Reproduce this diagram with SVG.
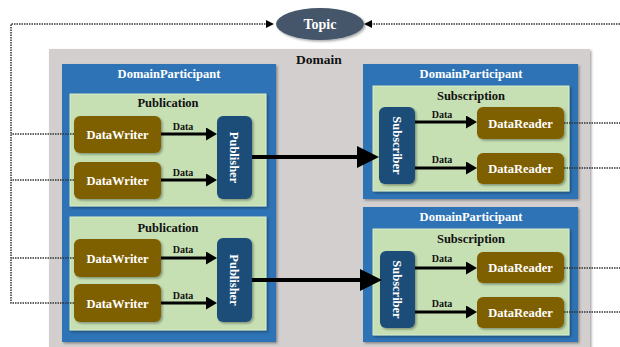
<svg xmlns="http://www.w3.org/2000/svg" width="620" height="347" viewBox="0 0 620 347">
<style>
text{font-family:"Liberation Serif","Times New Roman",serif;font-weight:bold;text-anchor:middle}
.w{fill:#ffffff;font-size:12.5px}
.k{fill:#111111}
.dom{fill:#d3cfcf;filter:url(#sh)}
.dp{fill:#2f73b5;filter:url(#sh)}
.grn{fill:#c6e0b4;stroke:#d8ecc9;stroke-width:1;filter:url(#sh)}
.brn{fill:#7f6000;filter:url(#sh)}
.dkb{fill:#1f4e79;filter:url(#sh)}
.dot{fill:none;stroke:#333333;stroke-width:1.5;stroke-dasharray:1.5 1}
.dat{fill:none;stroke:#000000;stroke-width:3}
.big{fill:none;stroke:#000000;stroke-width:4}
.lbl{font-size:10px;fill:#111111}
</style>
<defs>
<filter id="sh" x="-10%" y="-10%" width="130%" height="130%">
<feDropShadow dx="1.5" dy="1.5" stdDeviation="1.2" flood-color="#000000" flood-opacity="0.35"/>
</filter>
<marker id="ad" markerUnits="userSpaceOnUse" markerWidth="11" markerHeight="13" refX="4" refY="6.5" orient="auto">
<path d="M0,0 L11,6.5 L0,13 z" fill="#000000"/>
</marker>
<marker id="ab" markerUnits="userSpaceOnUse" markerWidth="22" markerHeight="22" refX="4" refY="11" orient="auto">
<path d="M0,0 L22,11 L0,22 z" fill="#000000"/>
</marker>
<marker id="at" markerUnits="userSpaceOnUse" markerWidth="8" markerHeight="8" refX="2" refY="4" orient="auto">
<path d="M0,0 L8,4 L0,8 z" fill="#000000"/>
</marker>
</defs>

<g id="domain">
<rect class="dom" x="49" y="49" width="541" height="300"/>
<text class="k" x="319" y="64" style="font-size:13.5px">Domain</text>
</g>

<g id="participant-left">
<rect class="dp" x="62" y="64" width="214" height="278"/>
<text class="w" x="169" y="78">DomainParticipant</text>
</g>
<g id="publication-1">
<rect class="grn" x="70" y="94" width="196" height="112"/>
<text class="k" x="168" y="107" style="font-size:12.5px">Publication</text>
</g>
<g id="publication-2">
<rect class="grn" x="70" y="217" width="196" height="113"/>
<text class="k" x="168" y="232" style="font-size:12.5px">Publication</text>
</g>

<g id="participant-right-1">
<rect class="dp" x="363" y="64" width="215" height="135"/>
<text class="w" x="471" y="78">DomainParticipant</text>
</g>
<g id="subscription-1">
<rect class="grn" x="373" y="86" width="196" height="105"/>
<text class="k" x="471" y="100" style="font-size:12.5px">Subscription</text>
</g>
<g id="participant-right-2">
<rect class="dp" x="363" y="207" width="215" height="135"/>
<text class="w" x="471" y="221">DomainParticipant</text>
</g>
<g id="subscription-2">
<rect class="grn" x="373" y="229" width="196" height="106"/>
<text class="k" x="471" y="243" style="font-size:12.5px">Subscription</text>
</g>

<g id="topic">
<ellipse cx="320" cy="24" rx="44" ry="16" fill="#44546a" filter="url(#sh)"/>
<text class="w" x="320" y="29" style="font-size:14px">Topic</text>
</g>

<g id="datawriter-1"><rect class="brn" x="74" y="116" width="87" height="37" rx="6"/><text class="w" x="117.5" y="139">DataWriter</text></g>
<g id="datawriter-2"><rect class="brn" x="74" y="162" width="87" height="37" rx="6"/><text class="w" x="117.5" y="185">DataWriter</text></g>
<g id="datawriter-3"><rect class="brn" x="74" y="239" width="87" height="38" rx="6"/><text class="w" x="117.5" y="262.5">DataWriter</text></g>
<g id="datawriter-4"><rect class="brn" x="74" y="284" width="87" height="38" rx="6"/><text class="w" x="117.5" y="307.5">DataWriter</text></g>

<g id="publisher-1"><rect class="dkb" x="217" y="116" width="35" height="83" rx="6"/><text class="w" transform="translate(234.5,157.5) rotate(90)" y="4.5">Publisher</text></g>
<g id="publisher-2"><rect class="dkb" x="217" y="238" width="35" height="84" rx="6"/><text class="w" transform="translate(234.5,280) rotate(90)" y="4.5">Publisher</text></g>

<g id="subscriber-1"><rect class="dkb" x="379" y="107" width="36" height="77" rx="6"/><text class="w" transform="translate(397,145.5) rotate(90)" y="4.5">Subscriber</text></g>
<g id="subscriber-2"><rect class="dkb" x="380" y="251" width="35" height="77" rx="6"/><text class="w" transform="translate(397.5,289.5) rotate(90)" y="4.5">Subscriber</text></g>

<g id="datareader-1"><rect class="brn" x="477" y="107" width="87" height="32" rx="6"/><text class="w" x="520.5" y="127.5">DataReader</text></g>
<g id="datareader-2"><rect class="brn" x="477" y="153" width="87" height="31" rx="6"/><text class="w" x="520.5" y="173">DataReader</text></g>
<g id="datareader-3"><rect class="brn" x="477" y="252" width="87" height="31" rx="6"/><text class="w" x="520.5" y="272">DataReader</text></g>
<g id="datareader-4"><rect class="brn" x="477" y="297" width="87" height="31" rx="6"/><text class="w" x="520.5" y="317">DataReader</text></g>

<g id="connectors">
<path class="dot" d="M74,303 H11 V24 H268" marker-end="url(#at)"/>
<path class="dot" d="M74,134 H11 M74,180 H11 M74,258 H11"/>
<path class="dot" d="M620,24 H370" marker-end="url(#at)"/>
<path class="dot" d="M564,123 H620 M564,168 H620 M564,268 H620 M564,312 H620"/>

<line class="dat" x1="161" y1="134" x2="210" y2="134" marker-end="url(#ad)"/>
<line class="dat" x1="161" y1="180" x2="210" y2="180" marker-end="url(#ad)"/>
<line class="dat" x1="161" y1="258" x2="210" y2="258" marker-end="url(#ad)"/>
<line class="dat" x1="161" y1="303" x2="210" y2="303" marker-end="url(#ad)"/>
<line class="dat" x1="415" y1="122" x2="470" y2="122" marker-end="url(#ad)"/>
<line class="dat" x1="415" y1="168" x2="470" y2="168" marker-end="url(#ad)"/>
<line class="dat" x1="415" y1="268" x2="470" y2="268" marker-end="url(#ad)"/>
<line class="dat" x1="415" y1="312" x2="470" y2="312" marker-end="url(#ad)"/>

<line class="big" x1="252" y1="157" x2="361" y2="157" marker-end="url(#ab)"/>
<line class="big" x1="252" y1="280" x2="364" y2="280" marker-end="url(#ab)"/>

<text class="lbl" x="183" y="130">Data</text>
<text class="lbl" x="183" y="176">Data</text>
<text class="lbl" x="183" y="253">Data</text>
<text class="lbl" x="183" y="299">Data</text>
<text class="lbl" x="442" y="118">Data</text>
<text class="lbl" x="442" y="163">Data</text>
<text class="lbl" x="442" y="262">Data</text>
<text class="lbl" x="442" y="307">Data</text>
</g>
</svg>
